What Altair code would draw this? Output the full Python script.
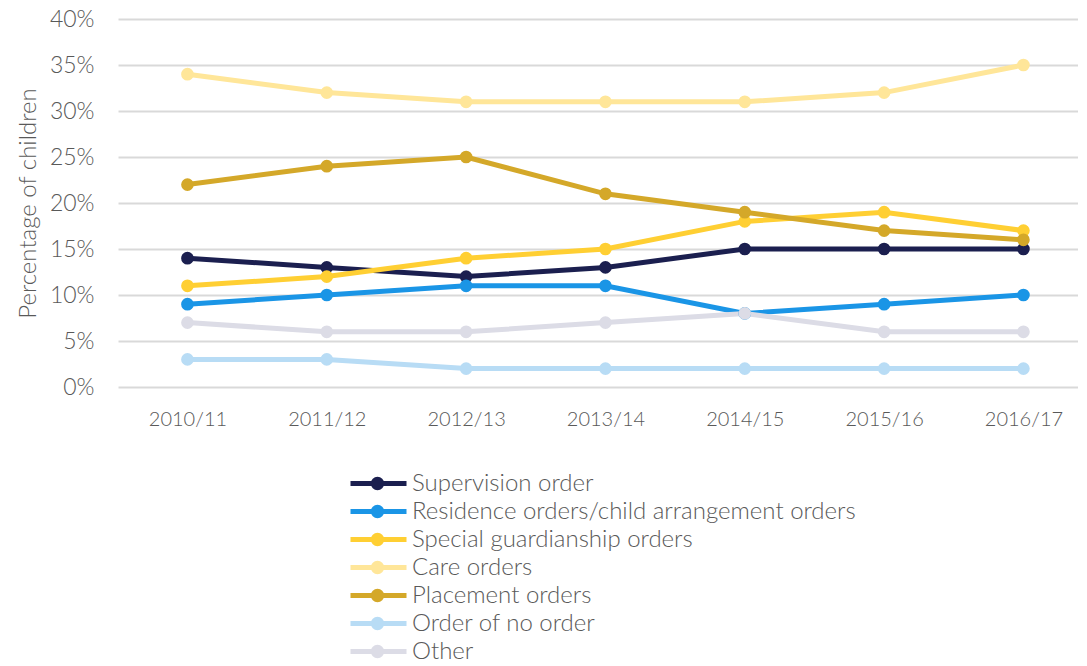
import altair as alt
import pandas as pd

years = ["2010/11", "2011/12", "2012/13", "2013/14", "2014/15", "2015/16", "2016/17"]
series = [
    "Supervision order",
    "Residence orders/child arrangement orders",
    "Special guardianship orders",
    "Care orders",
    "Placement orders",
    "Order of no order",
    "Other",
]
supervision = [14, 13, 12, 13, 15, 15, 15]
residence = [9, 10, 11, 11, 8, 9, 10]
special = [11, 12, 14, 15, 18, 19, 17]
care = [34, 32, 31, 31, 31, 32, 35]
placement = [22, 24, 25, 21, 19, 17, 16]
no_order = [3, 3, 2, 2, 2, 2, 2]
other = [7, 6, 6, 7, 8, 6, 6]
colors = ["#1b1f4f", "#1a95e6", "#ffcf33", "#ffe699", "#d4a829", "#b8dcf5", "#dcdce6"]

values = [supervision, residence, special, care, placement, no_order, other]
rows = []
for i, (s, vals) in enumerate(zip(series, values)):
    for y, v in zip(years, vals):
        rows.append({"series": s, "order": i, "year": y, "value": v / 100})
df = pd.DataFrame(rows)

FONT = "Lato"
TEXT = "#595959"
W = 300
color = alt.Color(
    "series:N",
    scale=alt.Scale(domain=series, range=colors),
    sort=series,
    legend=alt.Legend(
        title=None,
        orient="none",
        legendX=247,
        legendY=452,
        padding=0,
        direction="vertical",
        symbolType="M-2.7,0H2.9M0.42,0A0.42,0.42,0,1,1,-0.42,0A0.42,0.42,0,1,1,0.42,0Z",
        symbolSize=400,
        symbolStrokeWidth=5,
        symbolFillColor="transparent",
        labelFont=FONT,
        labelFontSize=24,
        labelFontWeight=W,
        labelColor=TEXT,
        rowPadding=-1,
        labelOffset=22,
        labelLimit=800,
    ),
)

x = alt.X(
    "year:N",
    sort=years,
    title=None,
    scale=alt.Scale(type="point", padding=0.445, align=0.56),
    axis=alt.Axis(
        labelAngle=0, ticks=False, domain=False, grid=False,
        labelFont=FONT, labelFontSize=20, labelFontWeight=W, labelColor=TEXT, labelPadding=22,
    ),
)
y = alt.Y(
    "value:Q",
    title="Percentage of children",
    scale=alt.Scale(domain=[0, 0.4]),
    axis=alt.Axis(
        format=".0%", values=[0, 0.05, 0.1, 0.15, 0.2, 0.25, 0.3, 0.35, 0.4],
        ticks=False, domain=False, gridColor="#d9d9d9", gridWidth=2,
        labelFont=FONT, labelFontSize=23, labelFontWeight=W, labelColor=TEXT, labelPadding=24,
        titleFont=FONT, titleFontSize=24, titleColor=TEXT, titleFontWeight=W,
        titlePadding=9,
    ),
)

base = alt.Chart(df)
lines = base.mark_line(strokeWidth=5).encode(x=x, y=y, color=color, order="order:Q")
points = base.mark_circle(size=160, opacity=1).encode(
    x=x, y=y, color=alt.Color("series:N", scale=alt.Scale(domain=series, range=colors), legend=None),
    order="order:Q",
)

chart = alt.layer(lines, points).properties(
    width=960, height=368, padding={"top": 0, "left": 8, "right": 0, "bottom": 0}
).configure_view(stroke=None)

chart.save("out.html", embed_options={"renderer": "svg", "actions": False})
